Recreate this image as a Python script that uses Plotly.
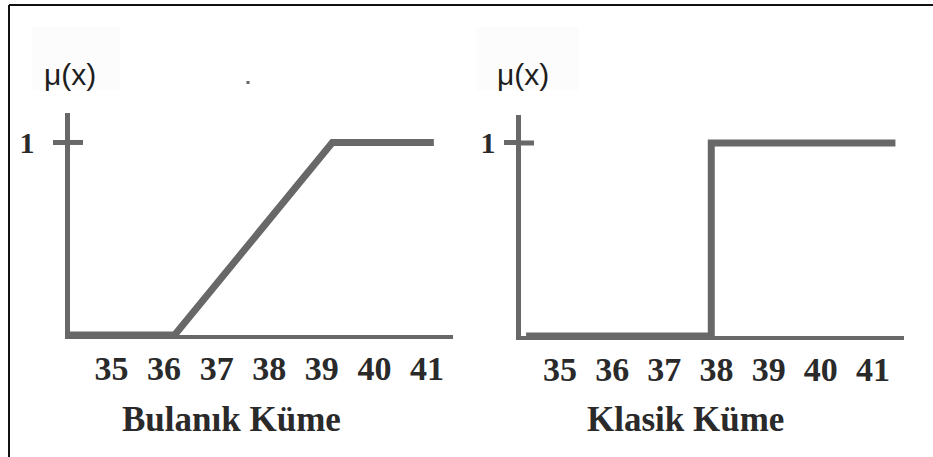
import plotly.graph_objects as go

# ---- data ----
x_tick_vals = [35, 36, 37, 38, 39, 40, 41]
x_tick_text = ["35", "36", "37", "38", "39", "40", "41"]
y_tick_vals = [1]
y_tick_text = ["1"]

fuzzy_x = [34.2, 36.2, 39.2, 41.13]
fuzzy_y = [0, 0, 1, 1]

crisp_x = [34.35, 37.9, 37.9, 41.43]
crisp_y = [0, 0, 1, 1]

left_title = "Bulanık Küme"
right_title = "Klasik Küme"
y_label = "μ(x)"

# ---- layout helpers ----
W, H = 933, 457


def px(x):
    return x / W


def py(y):
    return 1 - y / H


GRAY = "#686868"
TXT = "#2a2a2a"
serif = dict(family="Liberation Serif", size=34, color=TXT, weight="bold")
serif_y = dict(family="Liberation Serif", size=30, color=TXT, weight="bold")

fig = go.Figure()
fig.add_trace(go.Scatter(x=fuzzy_x, y=fuzzy_y, mode="lines",
                         line=dict(color=GRAY, width=7), xaxis="x", yaxis="y",
                         showlegend=False, hoverinfo="skip"))
fig.add_trace(go.Scatter(x=crisp_x, y=crisp_y, mode="lines",
                         line=dict(color=GRAY, width=7), xaxis="x2", yaxis="y2",
                         showlegend=False, hoverinfo="skip"))

common_x = dict(showline=True, linecolor=GRAY, linewidth=4, ticks="",
                tickvals=x_tick_vals, ticktext=x_tick_text, tickfont=serif,
                showgrid=False, zeroline=False, fixedrange=True,
                ticklabelstandoff=0)
common_y = dict(showline=True, linecolor=GRAY, linewidth=5, ticks="outside",
                ticklen=12, tickwidth=5, tickcolor=GRAY,
                tickvals=y_tick_vals, ticktext=y_tick_text, tickfont=serif_y,
                showgrid=False, zeroline=False, fixedrange=True)

fig.update_layout(
    width=W, height=H,
    margin=dict(l=0, r=0, t=0, b=0),
    paper_bgcolor="white", plot_bgcolor="white",
    xaxis=dict(domain=[px(69.5), px(453)], range=[34.201, 41.494], anchor="y", **common_x),
    yaxis=dict(domain=[py(335), py(113)], range=[0, 1.153], anchor="x",
               ticklabelstandoff=12, **common_y),
    xaxis2=dict(domain=[px(520.5), px(904)], range=[34.243, 41.594], anchor="y2", **common_x),
    yaxis2=dict(domain=[py(336), py(115)], range=[0, 1.145], anchor="x2",
                ticklabelstandoff=2, **common_y),
)

shapes = [
    # very faint boxes behind the μ(x) labels
    dict(type="rect", xref="paper", yref="paper", x0=px(32), x1=px(120), y0=py(90), y1=py(27),
         fillcolor="#fcfcfc", line=dict(width=0), layer="below"),
    dict(type="rect", xref="paper", yref="paper", x0=px(476), x1=px(579), y0=py(90), y1=py(27),
         fillcolor="#fcfcfc", line=dict(width=0), layer="below"),
    # inner part of the "1" tick crossing the axis
    dict(type="line", xref="x domain", yref="y", x0=0, x1=13.5 / 383.5, y0=1, y1=1,
         line=dict(color=GRAY, width=5)),
    dict(type="line", xref="x2 domain", yref="y2", x0=0, x1=13.5 / 383.5, y0=1, y1=1,
         line=dict(color=GRAY, width=5)),
    # speck
    dict(type="rect", xref="paper", yref="paper", x0=px(246.5), x1=px(249.5), y0=py(84), y1=py(81),
         fillcolor="#666666", line=dict(width=0)),
    # frame: top and left edges
    dict(type="line", xref="paper", yref="paper", x0=px(9), x1=1, y0=py(5), y1=py(5),
         line=dict(color="#111111", width=2)),
    dict(type="line", xref="paper", yref="paper", x0=px(9), x1=px(9), y0=py(5), y1=0,
         line=dict(color="#111111", width=2)),
]
fig.update_layout(shapes=shapes)

mu_font = dict(family="Liberation Sans", size=30, color="#1e1e1e")
annotations = [
    dict(text=y_label, x=px(70), y=py(74), xref="paper", yref="paper", showarrow=False,
         font=mu_font, xanchor="center", yanchor="middle"),
    dict(text=y_label, x=px(523), y=py(74), xref="paper", yref="paper", showarrow=False,
         font=mu_font, xanchor="center", yanchor="middle"),
    dict(text=left_title, x=px(231), y=py(419), xref="paper", yref="paper", showarrow=False,
         font=dict(family="Liberation Serif", size=35, color=TXT, weight="bold"),
         xanchor="center", yanchor="middle"),
    dict(text=right_title, x=px(685), y=py(419), xref="paper", yref="paper", showarrow=False,
         font=dict(family="Liberation Serif", size=35, color=TXT, weight="bold"),
         xanchor="center", yanchor="middle"),
]
fig.update_layout(annotations=annotations)

fig.write_html("out.html", config={"displayModeBar": False},
               post_script="document.body.style.margin='0';document.body.style.padding='0';")
